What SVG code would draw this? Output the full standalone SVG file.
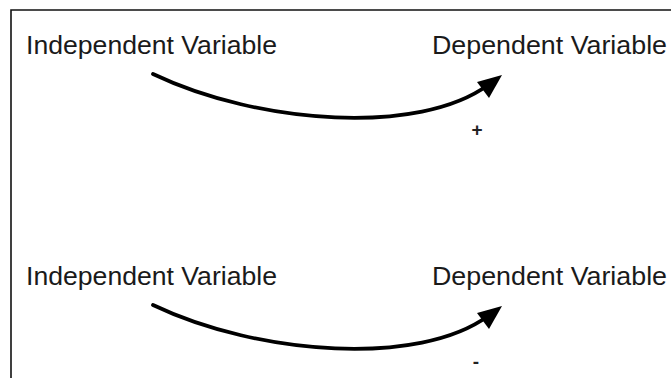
<svg xmlns="http://www.w3.org/2000/svg" width="671" height="378" viewBox="0 0 671 378">
<style>
.lbl{font-family:"Liberation Sans",Arial,sans-serif;font-size:26px;fill:#1a1a1a}
.sign{font-family:"Liberation Sans",Arial,sans-serif;font-size:19px;fill:#222;font-weight:bold}
.edge{fill:none;stroke:#000;stroke-width:3.8;stroke-linecap:round}
.head{fill:#000}
</style>
<rect width="671" height="378" fill="#fff"/>
<path d="M11,378 V10 H671" fill="none" stroke="#111" stroke-width="1.6"/>
<g id="iv1"><text class="lbl" x="26" y="54" textLength="251" lengthAdjust="spacingAndGlyphs">Independent Variable</text></g>
<g id="dv1"><text class="lbl" x="432" y="54" textLength="235" lengthAdjust="spacingAndGlyphs">Dependent Variable</text></g>
<g id="iv2"><text class="lbl" x="26" y="285" textLength="251" lengthAdjust="spacingAndGlyphs">Independent Variable</text></g>
<g id="dv2"><text class="lbl" x="432" y="285" textLength="235" lengthAdjust="spacingAndGlyphs">Dependent Variable</text></g>
<g id="connectors">
<path class="edge" d="M153,74 C260,125 420,135 488,85"/>
<polygon class="head" points="502,75 477,82 489,98"/>
<text class="sign" x="477" y="136" text-anchor="middle">+</text>
<path class="edge" d="M153,305 C260,356 420,366 488,316"/>
<polygon class="head" points="502,306 477,313 489,329"/>
<text class="sign" x="476" y="368" text-anchor="middle">-</text>
</g>
</svg>
